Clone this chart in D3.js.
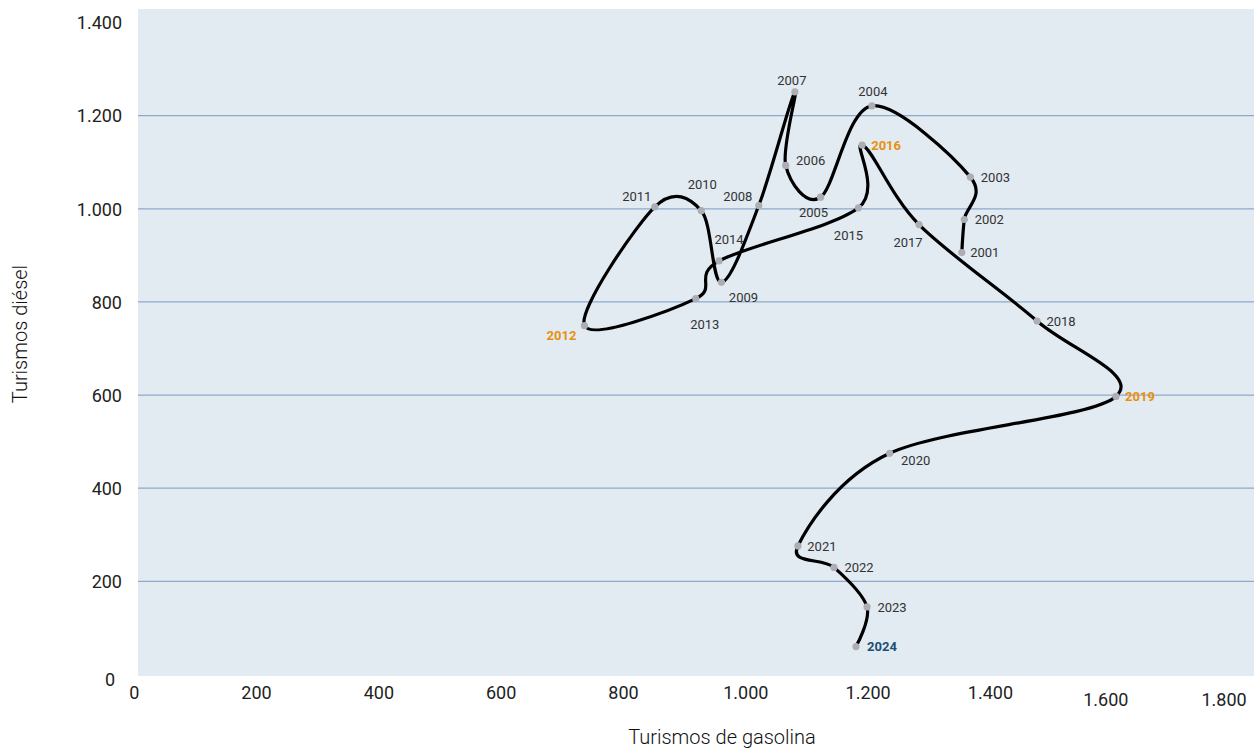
<!DOCTYPE html>
<html>
<head>
<meta charset="utf-8">
<script src="https://cdn.jsdelivr.net/npm/d3@7"></script>
<style>
  html, body { margin: 0; padding: 0; background: #ffffff; }
  svg { display: block; }
  text { font-family: Roboto, "Noto Sans", sans-serif; }
</style>
</head>
<body>
<svg id="chart" width="1255" height="748"></svg>
<script>
// ---- data ----
const years = [2001,2002,2003,2004,2005,2006,2007,2008,2009,2010,2011,2012,2013,2014,2015,2016,2017,2018,2019,2020,2021,2022,2023,2024];
const gasolina = [1354,1358,1368,1207,1123,1066,1081,1022,961,928,852,737,919,957,1185,1191,1284,1477,1606,1236,1086,1145,1199,1181];
const diesel = [906,977,1068,1221,1025,1093,1251,1007,842,996,1004,749,807,888,1002,1137,966,759,597,475,276,230,145,60];
const xTicks = [0,200,400,600,800,1000,1200,1400,1600,1800];
const yTicks = [0,200,400,600,800,1000,1200,1400];
const gridValues = [200,400,600,800,1000,1200];
const xTitle = "Turismos de gasolina";
const yTitle = "Turismos diésel";

// ---- label styling (placement relative to point, colour) ----
const labelOffset = {
  2001:[23,0],2002:[25,0],2003:[25,0],2004:[1,-14],2005:[-7,15],2006:[25,-5],2007:[-3,-11],
  2008:[-21,-9],2009:[22,15],2010:[1,-26],2011:[-18,-10],2012:[-23,10],2013:[9,26],2014:[10,-21],
  2015:[-10,28],2016:[24,0],2017:[-11,18],2018:[24,0],2019:[24,0],2020:[26,7],2021:[24,0],
  2022:[25,0],2023:[25,0],2024:[26,0]
};
const highlight = {2012:"#e8900c",2016:"#e8900c",2019:"#e8900c",2024:"#1b4f75"};

const svg = d3.select("#chart");
const plot = {left:138, right:1254, top:9, bottom:676};

const x = d3.scaleLinear().domain([0,1800]).range([133.7,1234.6]);
const y = d3.scaleLinear().domain([0,1400]).range([674.5,22.5]);

// background
svg.append("rect")
  .attr("x", plot.left).attr("y", plot.top)
  .attr("width", plot.right - plot.left).attr("height", plot.bottom - plot.top)
  .attr("fill", "#e2eaf2");

// gridlines
svg.append("g").selectAll("line").data(gridValues).join("line")
  .attr("x1", plot.left).attr("x2", plot.right)
  .attr("y1", d => y(d)).attr("y2", d => y(d))
  .attr("stroke", "#8eaacb").attr("stroke-width", 1.3);

const fmt = d => d3.format(",")(d).replace(/,/g, ".");

// y axis
const gy = svg.append("g").attr("transform", "translate(122,0)")
  .call(d3.axisLeft(y).tickValues(yTicks).tickSize(0).tickPadding(0).tickFormat(fmt));
gy.select(".domain").remove();
gy.selectAll("text").attr("font-size", 18).attr("fill", "#222").attr("font-family", "Roboto")
  .attr("dy", "0.35em");
gy.selectAll(".tick").filter(d => d === 0).select("text").attr("transform", "translate(-7,5)");

// x axis
const gx = svg.append("g").attr("transform", "translate(0,693)")
  .call(d3.axisBottom(x).tickValues(xTicks).tickSize(0).tickPadding(0).tickFormat(fmt));
gx.select(".domain").remove();
gx.selectAll("text").attr("font-size", 18).attr("fill", "#222").attr("font-family", "Roboto")
  .attr("dy", "0.35em");
gx.selectAll(".tick").filter(d => d === 1600).select("text").attr("transform", "translate(-7,7)");
gx.selectAll(".tick").filter(d => d === 1800).select("text").attr("transform", "translate(-11,7)");

// axis titles
svg.append("text").attr("x", 722).attr("y", 737).attr("text-anchor", "middle")
  .attr("dy", "0.35em").attr("font-size", 20).attr("font-weight", 300).attr("fill", "#111").text(xTitle);
svg.append("text").attr("transform", "translate(20,334) rotate(-90)").attr("text-anchor", "middle")
  .attr("dy", "0.35em").attr("font-size", 20).attr("font-weight", 300).attr("fill", "#111").text(yTitle);

// data
const pts = years.map((yr, i) => ({year: yr, g: gasolina[i], d: diesel[i]}));

const line = d3.line().x(p => x(p.g)).y(p => y(p.d)).curve(d3.curveCardinal.tension(0));
svg.append("path").datum(pts).attr("d", line)
  .attr("fill", "none").attr("stroke", "#000").attr("stroke-width", 3.2)
  .attr("stroke-linejoin", "round").attr("stroke-linecap", "round");

svg.append("g").selectAll("circle").data(pts).join("circle")
  .attr("cx", p => x(p.g)).attr("cy", p => y(p.d)).attr("r", 3.6)
  .attr("fill", "#adadb4");

svg.append("g").selectAll("text").data(pts).join("text")
  .attr("x", p => x(p.g) + labelOffset[p.year][0])
  .attr("y", p => y(p.d) + labelOffset[p.year][1])
  .attr("text-anchor", "middle").attr("dy", "0.35em")
  .attr("font-size", 13)
  .attr("font-weight", p => highlight[p.year] ? 700 : 400)
  .attr("fill", p => highlight[p.year] || "#333")
  .text(p => p.year);
</script>
</body>
</html>
